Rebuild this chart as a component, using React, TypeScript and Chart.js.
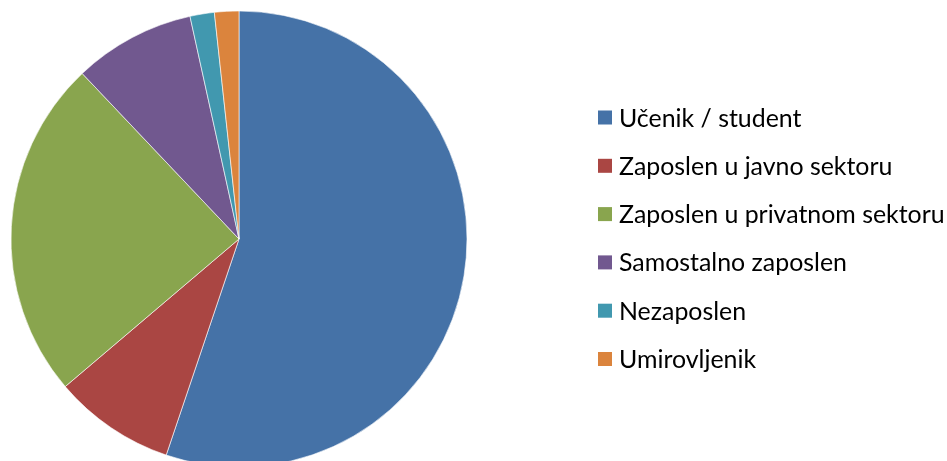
import React, { useEffect, useRef } from "react";
import { Chart, registerables } from "chart.js";

Chart.register(...registerables);

const categories = [
  "Učenik / student",
  "Zaposlen u javno sektoru",
  "Zaposlen u privatnom sektoru",
  "Samostalno zaposlen",
  "Nezaposlen",
  "Umirovljenik",
];
const values = [32, 5, 14, 5, 1, 1];
const colors = ["#4572A7", "#AA4643", "#89A54E", "#71588F", "#4198AF", "#DB843D"];

const W = 947;
const H = 461;

const legendPlugin = {
  id: "sideLegend",
  afterDraw(chart: any) {
    const ctx = chart.ctx as CanvasRenderingContext2D;
    const labels = chart.data.labels as string[];
    const bg = chart.data.datasets[0].backgroundColor as string[];
    const boxX = 598;
    const box = 14;
    const textX = 619;
    const y0 = 117.5;
    const step = 48.3;
    ctx.save();
    ctx.font = "24.9px Lato";
    ctx.textBaseline = "middle";
    ctx.textAlign = "left";
    labels.forEach((lab, i) => {
      const y = y0 + i * step;
      ctx.fillStyle = bg[i];
      ctx.fillRect(boxX, y - box / 2, box, box);
      ctx.fillStyle = "#000000";
      ctx.fillText(lab, textX, y + 1);
    });
    ctx.restore();
  },
};

export default function App() {
  const ref = useRef<HTMLCanvasElement | null>(null);
  useEffect(() => {
    if (!ref.current) return;
    const chart = new Chart(ref.current, {
      type: "pie",
      data: {
        labels: categories,
        datasets: [
          {
            data: values,
            backgroundColor: colors,
            borderColor: "#ffffff",
            borderWidth: 0.6,
            radius: 228,
            clip: false,
          } as any,
        ],
      },
      options: {
        responsive: false,
        animation: false,
        layout: { padding: { left: 0, right: W - 478, top: 17, bottom: 0 } },
        plugins: {
          legend: { display: false },
          tooltip: { enabled: false },
          title: { display: false },
        },
      },
      plugins: [legendPlugin],
    });
    return () => chart.destroy();
  }, []);
  return (
    <div style={{ position: "absolute", left: 0, top: 0, width: W, height: H, overflow: "hidden", background: "#fff" }}>
      <canvas ref={ref} width={W} height={H} style={{ width: W, height: H, display: "block" }} />
    </div>
  );
}
